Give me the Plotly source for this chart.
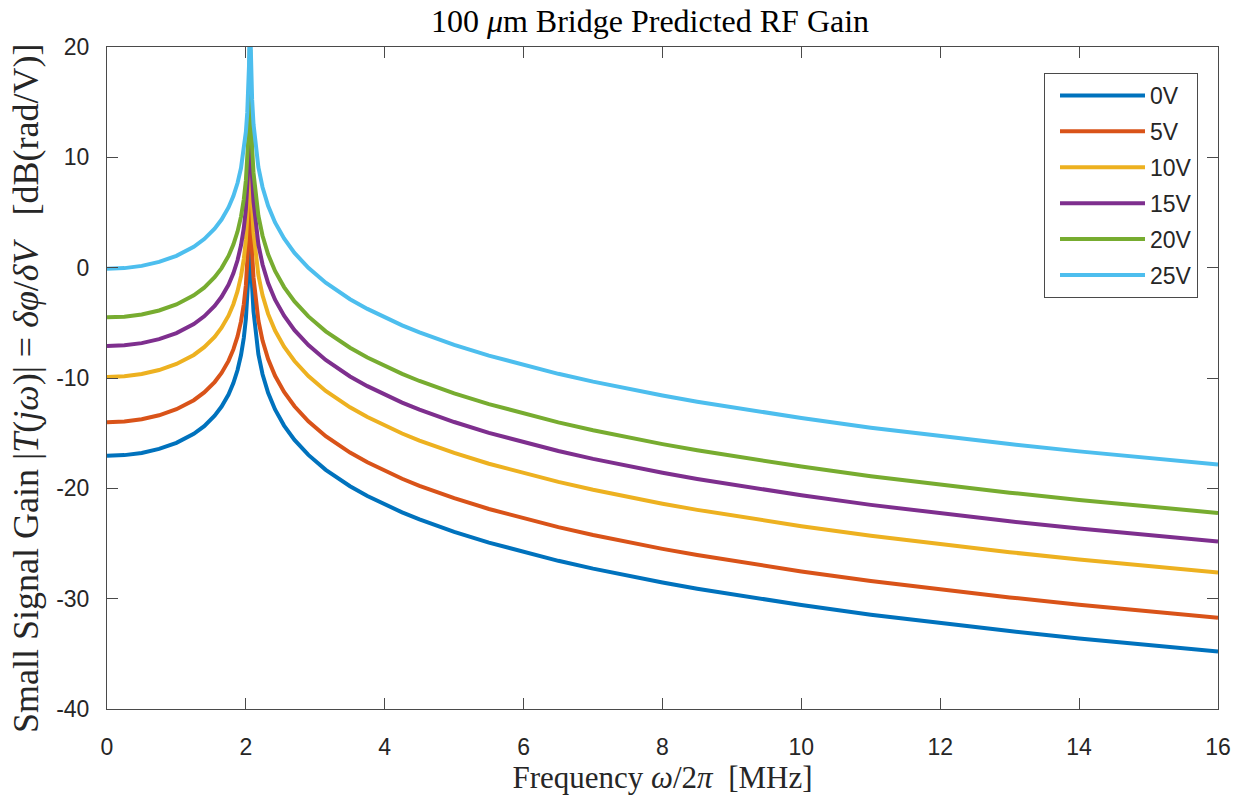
import plotly.graph_objects as go

# Drive frequency in MHz (denser sampling around the ~2.06 MHz resonance)
freq_mhz = [
    0.0, 0.25, 0.5, 0.75, 1.0, 1.25, 1.4, 1.55, 1.65, 1.75, 1.82, 1.88, 1.93, 1.97,
    2.0, 2.02, 2.035, 2.045, 2.052, 2.056, 2.064, 2.07, 2.078, 2.09, 2.11, 2.14,
    2.18, 2.24, 2.32, 2.42, 2.55, 2.7, 2.9, 3.15, 3.3, 3.5, 3.75, 4.0, 4.25, 4.5,
    4.75, 5, 5.5, 6, 6.5, 7, 7.5, 8, 8.5, 9, 9.5, 10, 11, 12, 13, 14, 15, 16,
]

# Small-signal gain in dB(rad/V) for each bias voltage
gain_0v = [
    -17.05, -16.99, -16.79, -16.43, -15.88, -15.06, -14.36, -13.42, -12.59, -11.50,
    -10.46, -9.28, -7.92, -6.37, -4.64, -2.90, -0.87, 1.33, 4.06, 7.06, 7.05, 3.07,
    0.51, -1.72, -3.96, -6.04, -7.84, -9.66, -11.34, -12.85, -14.31, -15.61, -16.97,
    -18.32, -19.00, -19.81, -20.69, -21.48, -22.18, -22.82, -23.40, -23.94, -24.92,
    -25.79, -26.57, -27.28, -27.93, -28.54, -29.10, -29.62, -30.12, -30.58,
    -31.45, -32.23, -32.94, -33.60, -34.21, -34.78,
]
gain_5v = [
    -14.00, -13.94, -13.74, -13.38, -12.83, -12.01, -11.31, -10.37, -9.54, -8.45,
    -7.41, -6.23, -4.87, -3.32, -1.59, 0.15, 2.18, 4.38, 7.11, 10.11, 10.10, 6.12,
    3.56, 1.33, -0.91, -2.99, -4.79, -6.61, -8.29, -9.80, -11.26, -12.56, -13.92,
    -15.27, -15.95, -16.76, -17.64, -18.43, -19.13, -19.77, -20.35, -20.89, -21.87,
    -22.74, -23.52, -24.23, -24.88, -25.49, -26.05, -26.57, -27.07, -27.53,
    -28.40, -29.18, -29.89, -30.55, -31.16, -31.73,
]
gain_10v = [
    -9.90, -9.84, -9.64, -9.28, -8.73, -7.91, -7.21, -6.27, -5.44, -4.35,
    -3.31, -2.13, -0.77, 0.78, 2.51, 4.25, 6.28, 8.48, 11.21, 14.21, 14.20, 10.22,
    7.66, 5.43, 3.19, 1.11, -0.69, -2.51, -4.19, -5.70, -7.16, -8.46, -9.82,
    -11.17, -11.85, -12.66, -13.54, -14.33, -15.03, -15.67, -16.25, -16.79, -17.77,
    -18.64, -19.42, -20.13, -20.78, -21.39, -21.95, -22.47, -22.97, -23.43,
    -24.30, -25.08, -25.79, -26.45, -27.06, -27.63,
]
gain_15v = [
    -7.10, -7.04, -6.84, -6.48, -5.93, -5.11, -4.41, -3.47, -2.64, -1.55,
    -0.51, 0.67, 2.03, 3.58, 5.31, 7.05, 9.08, 11.28, 14.01, 17.01, 17.00, 13.02,
    10.46, 8.23, 5.99, 3.91, 2.11, 0.29, -1.39, -2.90, -4.36, -5.66, -7.02,
    -8.37, -9.05, -9.86, -10.74, -11.53, -12.23, -12.87, -13.45, -13.99, -14.97,
    -15.84, -16.62, -17.33, -17.98, -18.59, -19.15, -19.67, -20.17, -20.63,
    -21.50, -22.28, -22.99, -23.65, -24.26, -24.83,
]
gain_20v = [
    -4.50, -4.44, -4.24, -3.88, -3.33, -2.51, -1.81, -0.87, -0.04, 1.06,
    2.09, 3.27, 4.63, 6.18, 7.91, 9.65, 11.68, 13.88, 16.61, 19.61, 19.60, 15.62,
    13.06, 10.83, 8.59, 6.51, 4.71, 2.89, 1.21, -0.30, -1.76, -3.06, -4.42,
    -5.77, -6.45, -7.26, -8.14, -8.93, -9.63, -10.27, -10.85, -11.39, -12.37,
    -13.24, -14.02, -14.73, -15.38, -15.99, -16.55, -17.07, -17.57, -18.03,
    -18.90, -19.68, -20.39, -21.05, -21.66, -22.23,
]
gain_25v = [
    -0.10, -0.04, 0.16, 0.52, 1.07, 1.89, 2.59, 3.53, 4.36, 5.46,
    6.49, 7.67, 9.03, 10.58, 12.31, 14.05, 16.08, 18.28, 21.01, 24.01, 24.00, 20.02,
    17.46, 15.23, 12.99, 10.91, 9.11, 7.29, 5.61, 4.10, 2.64, 1.34, -0.02,
    -1.37, -2.05, -2.86, -3.74, -4.53, -5.23, -5.87, -6.45, -6.99, -7.97,
    -8.84, -9.62, -10.33, -10.98, -11.59, -12.15, -12.67, -13.17, -13.63,
    -14.50, -15.28, -15.99, -16.65, -17.26, -17.83,
]

series_names = ["0V", "5V", "10V", "15V", "20V", "25V"]
series_values = [gain_0v, gain_5v, gain_10v, gain_15v, gain_20v, gain_25v]
series_colors = ["#0072BD", "#D95319", "#EDB120", "#7E2F8E", "#77AC30", "#4DBEEE"]

x_ticks = [0, 2, 4, 6, 8, 10, 12, 14, 16]
x_ticktext = ["0", "2", "4", "6", "8", "10", "12", "14", "16"]
y_ticks = [-40, -30, -20, -10, 0, 10, 20]
y_ticktext = ["-40", "-30", "-20", "-10", "0", "10", "20"]

AXIS_COLOR = "#4a4a4a"
TEXT_COLOR = "#262626"
SANS = "Liberation Sans, Arial, sans-serif"
SERIF = "Liberation Serif, Times New Roman, serif"

W, H = 1255, 796

fig = go.Figure()
for name, vals, color in zip(series_names, series_values, series_colors):
    fig.add_trace(go.Scatter(
        x=freq_mhz, y=vals, mode="lines", name=name, legendgroup=name,
        line=dict(color=color, width=4),
    ))

axis_common = dict(
    showline=True, linecolor=AXIS_COLOR, linewidth=1, mirror="ticks",
    ticks="inside", ticklen=11, tickwidth=1, tickcolor=AXIS_COLOR,
    showgrid=False, zeroline=False,
    tickfont=dict(family=SANS, size=23, color=TEXT_COLOR),
)

fig.update_layout(
    width=W, height=H,
    margin=dict(l=107, r=37, t=47, b=87),
    paper_bgcolor="white", plot_bgcolor="white",
    title=dict(
        text="100 <i>μ</i>m Bridge Predicted RF Gain",
        x=650 / W, xanchor="center",
        y=1 - 21 / H, yanchor="middle",
        font=dict(family=SERIF, size=32, color="black"),
    ),
    xaxis=dict(
        range=[0, 16], tickvals=x_ticks, ticktext=x_ticktext,
        ticklabelstandoff=17,
        title=dict(text="Frequency <i>ω</i>/2<i>π</i>  [MHz]", standoff=1,
                   font=dict(family=SERIF, size=31, color=TEXT_COLOR)),
        **axis_common,
    ),
    yaxis=dict(
        range=[-40, 20], tickvals=y_ticks, ticktext=y_ticktext,
        ticklabelstandoff=12,
        **axis_common,
    ),
    showlegend=True,
    legend=dict(
        x=(1198 - 107) / 1111, xanchor="right",
        y=(709 - 73) / 662, yanchor="top",
        bgcolor="white", bordercolor=AXIS_COLOR, borderwidth=1,
        font=dict(family=SANS, size=23, color=TEXT_COLOR),
        itemwidth=85, tracegroupgap=3, traceorder="grouped",
        indentation=10,
    ),
)

# Vertical y-axis title placed as a rotated annotation in paper space
fig.add_annotation(
    text="Small Signal Gain |<i>T</i>(<i>jω</i>)| = <i>δφ</i>/<i>δV</i>   [dB(rad/V)]",
    textangle=-90, xref="paper", yref="paper",
    x=(26 - 107) / 1111, y=(709 - 388) / 662,
    xanchor="center", yanchor="middle", showarrow=False,
    font=dict(family=SERIF, size=36, color=TEXT_COLOR),
)

fig.write_html("out.html")
